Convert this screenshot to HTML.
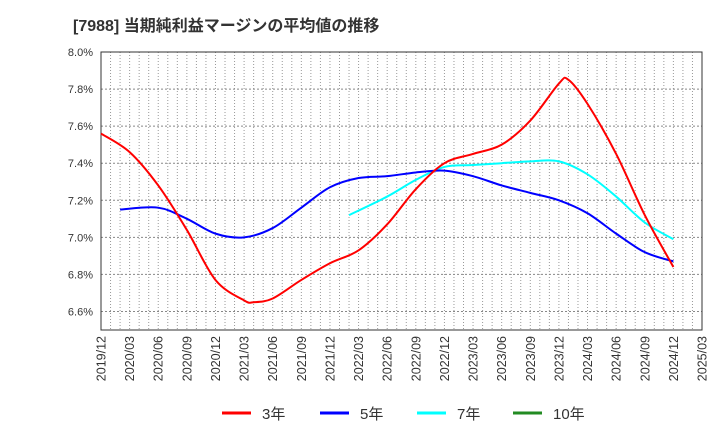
<!DOCTYPE html>
<html><head><meta charset="utf-8"><style>
body{margin:0;background:#fff;}
svg text{font-family:"Liberation Sans","Noto Sans CJK JP",sans-serif;}
</style></head><body>
<svg id="c" width="720" height="440" xmlns="http://www.w3.org/2000/svg">
<text x="73" y="31" font-size="16" font-weight="bold" fill="#333">[7988]  当期純利益マージンの平均値の推移</text>
<g id="grid"></g>
<g id="axes"></g>
<g id="series"></g>
<g id="legend"></g>
</svg>
<script>
const yTicks=[6.6,6.8,7.0,7.2,7.4,7.6,7.8,8.0];
const xLabels=["2019/12","2020/03","2020/06","2020/09","2020/12","2021/03","2021/06","2021/09","2021/12","2022/03","2022/06","2022/09","2022/12","2023/03","2023/06","2023/09","2023/12","2024/03","2024/06","2024/09","2024/12","2025/03"];
const s3Months=[0,3,6,9,12,15,16,18,21,24,27,30,33,36,39,42,45,48,49,51,54,57,60];
const s3Values=[7.56,7.46,7.28,7.04,6.77,6.66,6.65,6.67,6.77,6.86,6.93,7.07,7.26,7.40,7.45,7.50,7.63,7.83,7.85,7.72,7.45,7.12,6.84];
const s5Months=[2,6,9,12,15,18,21,24,27,30,33,36,39,42,45,48,51,54,57,60];
const s5Values=[7.15,7.16,7.10,7.02,7.00,7.05,7.16,7.27,7.32,7.33,7.35,7.36,7.33,7.28,7.24,7.20,7.13,7.02,6.92,6.87];
const s7Months=[26,30,33,36,39,42,45,48,51,54,57,60];
const s7Values=[7.12,7.22,7.31,7.38,7.39,7.40,7.41,7.41,7.34,7.22,7.08,6.99];
const legendLabels=["3年","5年","7年","10年"];
const legendColors=["#ff0000","#0000ff","#00ffff","#228b22"];

const L=101,R=702,T=52,B=330,NM=63;
const xs=m=>L+(R-L)*m/NM;
const ys=v=>T+(8.0-v)/1.5*(B-T);
const NS="http://www.w3.org/2000/svg";
function mk(tag,attrs,parent){const e=document.createElementNS(NS,tag);for(const k in attrs)e.setAttribute(k,attrs[k]);parent.appendChild(e);return e;}
const grid=document.getElementById('grid'),axes=document.getElementById('axes'),ser=document.getElementById('series'),leg=document.getElementById('legend');
for(let m=1;m<NM;m++){const l=mk('line',{x1:xs(m),x2:xs(m),y1:T,y2:B,stroke:'#999','stroke-width':1,'stroke-dasharray':'1,2'},grid);

}
yTicks.forEach(v=>{const y=ys(v);
const l=mk('line',{x1:L,x2:R,y1:y,y2:y,stroke:'#888','stroke-width':1,'stroke-dasharray':'2,2'},grid);


const t=mk('text',{x:L-8,y:y+4,'text-anchor':'end','font-size':11,fill:'#333'},axes);t.textContent=v.toFixed(1)+'%';

});
const fr=mk('rect',{x:L,y:T,width:R-L,height:B-T,fill:'none',stroke:'#333','stroke-width':1},axes);


xLabels.forEach((s,i)=>{const x=xs(i*3)+4.5;const t=mk('text',{x:0,y:0,transform:`translate(${x},${B+6}) rotate(-90)`,'text-anchor':'end','font-size':12.5,fill:'#333'},axes);t.textContent=s;

});
function path(ms,vs){const p=ms.map((m,i)=>[xs(m),ys(vs[i])]);let d=`M${p[0][0]},${p[0][1]}`;
for(let i=0;i<p.length-1;i++){const p0=p[i-1]||p[i],p1=p[i],p2=p[i+1],p3=p[i+2]||p2;
d+=` C${p1[0]+(p2[0]-p0[0])/6},${p1[1]+(p2[1]-p0[1])/6} ${p2[0]-(p3[0]-p1[0])/6},${p2[1]-(p3[1]-p1[1])/6} ${p2[0]},${p2[1]}`;}return d;}
[[s7Months,s7Values,2,'line-7yr'],[s5Months,s5Values,1,'line-5yr'],[s3Months,s3Values,0,'line-3yr']].forEach(([m,v,c,n])=>{
const p=mk('path',{d:path(m,v),fill:'none',stroke:legendColors[c],'stroke-width':2},ser);

});
const lx=[222,320,417,513];
legendLabels.forEach((s,i)=>{const l=mk('line',{x1:lx[i],x2:lx[i]+29,y1:413,y2:413,stroke:legendColors[i],'stroke-width':3},leg);


const t=mk('text',{x:lx[i]+40,y:419,'font-size':15,fill:'#333'},leg);t.textContent=s;

});
</script>
</body></html>
